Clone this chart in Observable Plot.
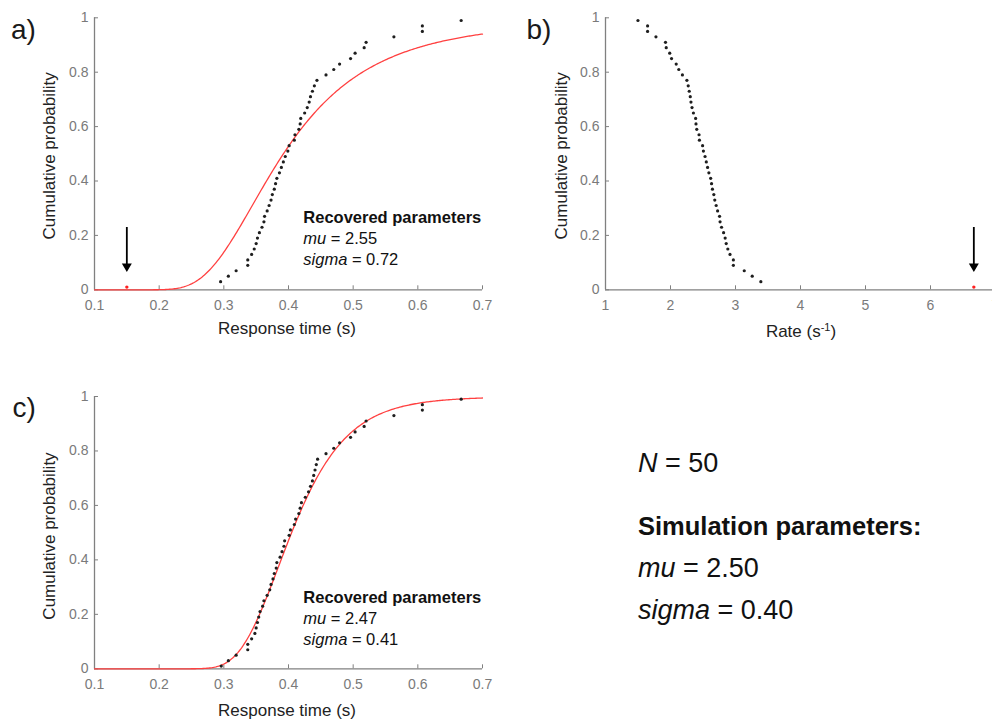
<!DOCTYPE html>
<html>
<head>
<meta charset="utf-8">
<script src="https://cdn.jsdelivr.net/npm/d3@7"></script>
<script src="https://cdn.jsdelivr.net/npm/@observablehq/plot@0.6"></script>
<style>
html, body { margin: 0; padding: 0; background: #fff; overflow: hidden; }
#fig { position: relative; width: 992px; height: 720px; overflow: hidden; background: #fff; }
.panel { position: absolute; }
.panel svg { max-width: none !important; display: block; }
#overlay { position: absolute; left: 0; top: 0; pointer-events: none; }
</style>
</head>
<body>
<div id="fig"></div>
<script>
// ---------------- data ----------------
const xTicksRT = [0.1, 0.2, 0.3, 0.4, 0.5, 0.6, 0.7];
const xTicksRate = [1, 2, 3, 4, 5, 6, 7];
const yTicks = [0, 0.2, 0.4, 0.6, 0.8, 1];

// panel a / b : outlier + remaining 49 response times (s)
const outlierRT = 0.150;
const outlierProb = 0.01;
const rtA = [0.295, 0.307, 0.319, 0.337, 0.337, 0.343, 0.347, 0.350, 0.352, 0.355,
             0.359, 0.362, 0.363, 0.367, 0.370, 0.373, 0.375, 0.378, 0.380, 0.382,
             0.386, 0.389, 0.392, 0.395, 0.399, 0.401, 0.409, 0.410, 0.416, 0.418,
             0.419, 0.425, 0.429, 0.432, 0.434, 0.437, 0.440, 0.444, 0.458, 0.470,
             0.479, 0.496, 0.503, 0.517, 0.520, 0.563, 0.607, 0.607, 0.667];
const probA = [0.03, 0.05, 0.07, 0.09, 0.11, 0.13, 0.15, 0.17, 0.19, 0.21,
               0.23, 0.25, 0.27, 0.29, 0.31, 0.33, 0.35, 0.37, 0.39, 0.41,
               0.43, 0.45, 0.47, 0.49, 0.51, 0.53, 0.55, 0.57, 0.59, 0.61,
               0.63, 0.65, 0.67, 0.69, 0.71, 0.73, 0.75, 0.77, 0.79, 0.81,
               0.83, 0.85, 0.87, 0.89, 0.91, 0.93, 0.95, 0.97, 0.99];

// panel c : 50 response times (s)
const rtC = [0.296, 0.307, 0.319, 0.337, 0.337, 0.343, 0.348, 0.350, 0.352, 0.354,
             0.356, 0.360, 0.362, 0.367, 0.371, 0.373, 0.376, 0.378, 0.381, 0.382,
             0.387, 0.390, 0.393, 0.394, 0.401, 0.403, 0.409, 0.411, 0.416, 0.418,
             0.420, 0.426, 0.431, 0.434, 0.437, 0.439, 0.441, 0.443, 0.445, 0.458,
             0.470, 0.479, 0.496, 0.503, 0.517, 0.520, 0.563, 0.607, 0.607, 0.667];
const probC = [0.01, 0.03, 0.05, 0.07, 0.09, 0.11, 0.13, 0.15, 0.17, 0.19,
               0.21, 0.23, 0.25, 0.27, 0.29, 0.31, 0.33, 0.35, 0.37, 0.39,
               0.41, 0.43, 0.45, 0.47, 0.49, 0.51, 0.53, 0.55, 0.57, 0.59,
               0.61, 0.63, 0.65, 0.67, 0.69, 0.71, 0.73, 0.75, 0.77, 0.79,
               0.81, 0.83, 0.85, 0.87, 0.89, 0.91, 0.93, 0.95, 0.97, 0.99];

// fitted (recovered) and simulation parameters
const muA = 2.55, sigmaA = 0.72;
const muC = 2.47, sigmaC = 0.41;
const nSim = 50, muSim = 2.50, sigmaSim = 0.40;

// ---------------- helpers ----------------
const FONT = "'Liberation Sans', Arial, Helvetica, sans-serif";
const AXIS = "#808080";
const TICKTXT = "#7a7a7a";
const RED = "#ff4040";
const DOT = "#1e1e1e";
const fmt = d3.format("~g");

function erf(x) {
  const s = Math.sign(x); x = Math.abs(x);
  const t = 1 / (1 + 0.3275911 * x);
  const y = 1 - (((((1.061405429 * t - 1.453152027) * t) + 1.421413741) * t - 0.284496736) * t + 0.254829592) * t * Math.exp(-x * x);
  return s * y;
}
const normCdf = z => 0.5 * (1 + erf(z / Math.SQRT2));
// LATER-model CDF of response time: rate = 1/RT ~ Normal(mu, sigma)
const tGrid = d3.range(0.1, 0.7005, 0.002);
const fitCurve = (mu, s) => tGrid.map(t => ({t, p: 1 - normCdf((1 / t - mu) / s)}));

const ptsA = rtA.map((rt, i) => ({rt, p: probA[i]}));
const ptsC = rtC.map((rt, i) => ({rt, p: probC[i]}));
const outlier = [{rt: outlierRT, p: outlierProb}];

// arrow drawn relative to the outlier point (pixels)
const arrowSymbol = {
  draw(ctx) {
    ctx.moveTo(-0.9, -60); ctx.lineTo(0.9, -60); ctx.lineTo(0.9, -23); ctx.lineTo(-0.9, -23); ctx.closePath();
    ctx.moveTo(-5, -23.5); ctx.lineTo(5, -23.5); ctx.lineTo(0, -15); ctx.closePath();
  }
};

const fig = document.getElementById("fig");

function panel({left, top, width, height, mL, mR, mT, mB, xDomain, xTicks, marks}) {
  const plotW = width - mL - mR, plotH = height - mT - mB;
  const chart = Plot.plot({
    width, height,
    marginLeft: mL, marginRight: mR, marginTop: mT, marginBottom: mB,
    x: {domain: xDomain},
    y: {domain: [0, 1]},
    style: {fontFamily: FONT, fontSize: "14px", color: TICKTXT, background: "transparent", overflow: "visible"},
    marks: [
      Plot.ruleY([0], {stroke: AXIS, strokeWidth: 1.3}),
      Plot.ruleX([xDomain[0]], {stroke: AXIS, strokeWidth: 1.3}),
      Plot.tickX(xTicks, {x: d => d, stroke: AXIS, insetTop: plotH - 4}),
      Plot.tickY(yTicks, {y: d => d, stroke: AXIS, insetRight: plotW - 4}),
      Plot.axisX(xTicks, {tickSize: 0, tickPadding: 10, tickFormat: fmt, label: null, fill: TICKTXT}),
      Plot.axisY(yTicks, {tickSize: 0, tickPadding: 6, tickFormat: fmt, label: null, fill: TICKTXT}),
      ...marks
    ]
  });
  const div = document.createElement("div");
  div.className = "panel";
  div.style.left = left + "px";
  div.style.top = top + "px";
  div.appendChild(chart);
  fig.appendChild(div);
}

// panel a
panel({
  left: 0, top: 0, width: 496, height: 345, mL: 94, mR: 14, mT: 17.3, mB: 55.7,
  xDomain: [0.1, 0.7], xTicks: xTicksRT,
  marks: [
    Plot.line(fitCurve(muA, sigmaA), {x: "t", y: "p", stroke: RED, strokeWidth: 1.3}),
    Plot.dot(ptsA, {x: "rt", y: "p", r: 1.6, fill: DOT, stroke: "none"}),
    Plot.dot(outlier, {x: "rt", y: "p", r: 1.7, fill: "#ff2020", stroke: "none"}),
    Plot.dot(outlier, {x: "rt", y: "p", r: 5, symbol: arrowSymbol, fill: "#000", stroke: "none"})
  ]
});

// panel b (rate = 1/RT)
panel({
  left: 500, top: 0, width: 500, height: 345, mL: 105, mR: 5, mT: 17.3, mB: 55.7,
  xDomain: [1, 7], xTicks: xTicksRate,
  marks: [
    Plot.dot(ptsA, {x: d => 1 / d.rt, y: "p", r: 1.6, fill: DOT, stroke: "none"}),
    Plot.dot(outlier, {x: d => 1 / d.rt, y: "p", r: 1.7, fill: "#ff2020", stroke: "none"}),
    Plot.dot(outlier, {x: d => 1 / d.rt, y: "p", r: 5, symbol: arrowSymbol, fill: "#000", stroke: "none"})
  ]
});

// panel c
panel({
  left: 0, top: 380, width: 496, height: 340, mL: 94, mR: 14, mT: 16, mB: 51.7,
  xDomain: [0.1, 0.7], xTicks: xTicksRT,
  marks: [
    Plot.line(fitCurve(muC, sigmaC), {x: "t", y: "p", stroke: RED, strokeWidth: 1.3}),
    Plot.dot(ptsC, {x: "rt", y: "p", r: 1.6, fill: DOT, stroke: "none"})
  ]
});

// ---------------- text overlay ----------------
const ov = d3.select(fig).append("svg").attr("id", "overlay")
  .attr("width", 992).attr("height", 720)
  .style("font-family", FONT);

function txt(x, y, parts, {size = 17, anchor = "start", weight = "normal", rotate = 0, fill = "#1a1a1a"} = {}) {
  const t = ov.append("text")
    .attr("x", x).attr("y", y)
    .attr("font-size", size).attr("font-weight", weight)
    .attr("text-anchor", anchor).attr("fill", fill);
  if (rotate) t.attr("transform", `rotate(${rotate},${x},${y})`);
  for (const p of parts) {
    const [s, o = {}] = typeof p === "string" ? [p] : p;
    const ts = t.append("tspan").text(s);
    if (o.italic) ts.attr("font-style", "italic");
    if (o.dy) ts.attr("dy", o.dy);
    if (o.size) ts.attr("font-size", o.size);
  }
  return t;
}

// panel letters
txt(11, 38.5, ["a)"], {size: 28});
txt(526.5, 38.5, ["b)"], {size: 28});
txt(12.5, 417, ["c)"], {size: 28});

// axis titles
txt(55, 155.8, ["Cumulative probability"], {anchor: "middle", rotate: -90, fill: "#222"});
txt(567.5, 155.8, ["Cumulative probability"], {anchor: "middle", rotate: -90, fill: "#222"});
txt(55, 536, ["Cumulative probability"], {anchor: "middle", rotate: -90, fill: "#222"});
txt(287, 334, ["Response time (s)"], {anchor: "middle", fill: "#222"});
txt(801, 337, ["Rate (s", ["-1", {dy: -6, size: 11}], [")", {dy: 6}]], {anchor: "middle", fill: "#222"});
txt(287, 716, ["Response time (s)"], {anchor: "middle", fill: "#222"});

// recovered parameters
txt(303.3, 222.5, ["Recovered parameters"], {size: 16.5, weight: "bold", fill: "#111"});
txt(303.3, 243.5, [["mu", {italic: true}], " = " + muA.toFixed(2)], {size: 16.5, fill: "#111"});
txt(303.3, 265, [["sigma", {italic: true}], " = " + sigmaA.toFixed(2)], {size: 16.5, fill: "#111"});
txt(303.3, 602.7, ["Recovered parameters"], {size: 16.5, weight: "bold", fill: "#111"});
txt(303.3, 623.5, [["mu", {italic: true}], " = " + muC.toFixed(2)], {size: 16.5, fill: "#111"});
txt(303.3, 645, [["sigma", {italic: true}], " = " + sigmaC.toFixed(2)], {size: 16.5, fill: "#111"});

// simulation block
txt(638, 471.7, [["N", {italic: true}], " = " + nSim], {size: 27, fill: "#111"});
txt(638, 535, ["Simulation parameters:"], {size: 25.5, weight: "bold", fill: "#111"});
txt(638, 577, [["mu", {italic: true}], " = " + muSim.toFixed(2)], {size: 27, fill: "#111"});
txt(638, 619, [["sigma", {italic: true}], " = " + sigmaSim.toFixed(2)], {size: 27, fill: "#111"});
</script>
</body>
</html>
